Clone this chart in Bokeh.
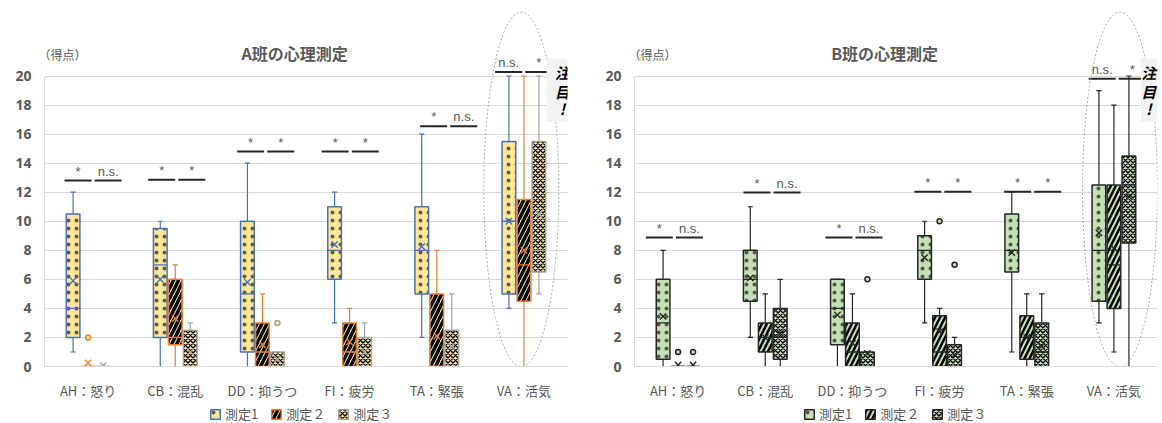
from bokeh.plotting import figure
from bokeh.layouts import row, column
from bokeh.models import Range1d, FixedTicker, Legend, LegendItem, Label
from bokeh.core.properties import value
from bokeh.embed import file_html
from bokeh.resources import INLINE

categories = ["AH：怒り", "CB：混乱", "DD：抑うつ", "FI：疲労", "TA：緊張", "VA：活気"]
series_names = ["測定1", "測定２", "測定３"]

# ---------------- A班 ----------------
a1_low = [1, 0, 0, 3, 2, 4]
a1_q1 = [2, 2, 1, 6, 5, 5]
a1_med = [4, 7, 5, 8, 8, 10]
a1_q3 = [10.5, 9.5, 10, 11, 11, 15.5]
a1_high = [12, 10, 14, 12, 16, 20]
a1_mean = [5.9, 6.0, 5.8, 8.4, 8.25, 10.0]

a2_low = [0, 0, 0, 0, 0, 0]
a2_q1 = [0, 1.5, 0, 0, 0, 4.5]
a2_med = [0, 2, 1, 1, 0, 7]
a2_q3 = [0, 6, 3, 3, 5, 11.5]
a2_high = [0, 7, 5, 4, 8, 20]
a2_mean = [0.25, 3.3, 1.5, 1.7, 2.1, 8.0]

a3_low = [0, 0, 0, 0, 0, 5]
a3_q1 = [0, 0, 0, 0, 0, 6.5]
a3_med = [0, 0, 0, 0, 0, 8]
a3_q3 = [0, 2.5, 1, 2, 2.5, 15.5]
a3_high = [0, 3, 1, 3, 5, 20]
a3_mean = [0.05, 1.0, 0.5, 1.0, 1.4, 10.5]

a_out_cat = [0, 2]
a_out_series = [1, 2]
a_out_val = [2, 3]

a_sig_y = [12.8, 12.85, 14.8, 14.8, 16.55, 20.27]
a_sig_left = ["*", "*", "*", "*", "*", "n.s."]
a_sig_right = ["n.s.", "*", "*", "*", "n.s.", "*"]

# ---------------- B班 ----------------
b1_low = [0, 2, 0, 3, 1, 3]
b1_q1 = [0.5, 4.5, 1.5, 6, 6.5, 4.5]
b1_med = [3, 6, 4, 8, 8, 8]
b1_q3 = [6, 8, 6, 9, 10.5, 12.5]
b1_high = [8, 11, 6, 10, 12, 19]
b1_mean = [3.45, 6.1, 3.55, 7.5, 7.85, 9.2]

b2_low = [0, 0, 0, 0, 0, 1]
b2_q1 = [0, 1, 0, 0, 0.5, 4]
b2_med = [0, 2, 1, 1, 2, 7]
b2_q3 = [0, 3, 3, 3.5, 3.5, 12.5]
b2_high = [0, 5, 5, 4, 5, 18]
b2_mean = [0.1, 2.0, 1.6, 2.4, 2.0, 8.15]

b3_low = [0, 0, 0, 0, 0, 0]
b3_q1 = [0, 0.5, 0, 0, 0, 8.5]
b3_med = [0, 2, 0, 0, 1, 12.5]
b3_q3 = [0, 4, 1, 1.5, 3, 14.5]
b3_high = [0, 6, 1, 2, 5, 20]
b3_mean = [0.1, 2.3, 0.9, 0.8, 1.4, 11.7]

b_out_cat = [0, 0, 2, 3, 3]
b_out_series = [1, 2, 2, 1, 2]
b_out_val = [1, 1, 6, 10, 7]

b_sig_y = [8.88, 11.98, 8.88, 12.03, 12.03, 19.82]
b_sig_left = ["*", "*", "*", "*", "*", "n.s."]
b_sig_right = ["n.s.", "n.s.", "n.s.", "*", "*", "*"]

JP = "Noto Sans CJK JP"
GRAY_TXT = "#595959"
GRID = "#D9D9D9"
YTOP = 25.2


def make_panel(title, stats, outliers, sig, fill, lines, hatches, hatch_scales, hatch_weights,
               hatch_alphas, sig_shift, ell_x, note_x0, note_tx, width, br):
    p = figure(width=width, height=402,
               x_range=Range1d(0.5, 6.5), y_range=Range1d(0, YTOP),
               output_backend="svg", toolbar_location=None,
               min_border_left=44, min_border_right=br, min_border_top=0, min_border_bottom=30)
    p.outline_line_color = None
    p.background_fill_color = "white"
    p.border_fill_color = "white"

    yt = FixedTicker(ticks=list(range(0, 21, 2)))
    p.yaxis.ticker = yt
    p.ygrid.ticker = yt
    p.yaxis.bounds = (0, 20)
    p.ygrid.grid_line_color = GRID
    p.xgrid.visible = False
    p.yaxis.axis_line_color = GRID
    p.yaxis.major_tick_line_color = None
    p.yaxis.minor_tick_line_color = None
    p.yaxis.major_label_text_font = "Noto Sans"
    p.yaxis.major_label_text_font_style = "bold"
    p.yaxis.major_label_text_font_size = "14px"
    p.yaxis.major_label_text_color = GRAY_TXT
    p.yaxis.major_label_standoff = 7

    p.xaxis.ticker = FixedTicker(ticks=list(range(1, 7)))
    p.xaxis.major_label_overrides = {i + 1: c for i, c in enumerate(categories)}
    p.xaxis.axis_line_color = GRID
    p.xaxis.major_tick_line_color = None
    p.xaxis.minor_tick_line_color = None
    p.xaxis.major_label_text_font = JP
    p.xaxis.major_label_text_font_size = "13px"
    p.xaxis.major_label_text_color = GRAY_TXT
    p.xaxis.major_label_standoff = 8

    offsets = [-0.172, 0.0, 0.172]
    bw = 0.157
    cap = 0.03
    for s in range(3):
        low, q1, med, q3, high, mean = stats[s]
        xs = [i + 1 + offsets[s] for i in range(6)]
        col = lines[s]
        p.segment(x0=xs, y0=q3, x1=xs, y1=high, line_color=col, line_width=1.2)
        p.segment(x0=xs, y0=low, x1=xs, y1=q1, line_color=col, line_width=1.2)
        p.segment(x0=[x - cap for x in xs], y0=high, x1=[x + cap for x in xs], y1=high,
                  line_color=col, line_width=1.2)
        p.segment(x0=[x - cap for x in xs], y0=low, x1=[x + cap for x in xs], y1=low,
                  line_color=col, line_width=1.2)
        p.vbar(x=xs, width=bw, bottom=q1, top=q3, fill_color=fill,
               line_color=col, line_width=1.5,
               hatch_pattern=hatches[s], hatch_color="black", hatch_alpha=hatch_alphas[s],
               hatch_scale=hatch_scales[s], hatch_weight=hatch_weights[s])
        p.segment(x0=[x - bw / 2 for x in xs], y0=med, x1=[x + bw / 2 for x in xs], y1=med,
                  line_color=col, line_width=1.3)
        p.scatter(x=xs, y=mean, marker="x", size=9, line_color=col, line_width=1.4)

    oc, os_, ov = outliers
    ox = [c + 1 + offsets[s] for c, s in zip(oc, os_)]
    p.scatter(x=ox, y=ov, marker="circle", size=5,
              fill_color=fill, line_color=[lines[s] for s in os_], line_width=1.5)

    sy, sl, sr = sig
    x0l, x1l, x0r, x1r, xcl, xcr = [], [], [], [], [], []
    for i in range(6):
        c = i + 1 + sig_shift[i]
        x0l.append(c - 0.31); x1l.append(c - 0.0)
        x0r.append(c + 0.035); x1r.append(c + 0.345)
        xcl.append(c - 0.155); xcr.append(c + 0.19)
    p.segment(x0=x0l, y0=sy, x1=x1l, y1=sy, line_color="#262626", line_width=2)
    p.segment(x0=x0r, y0=sy, x1=x1r, y1=sy, line_color="#262626", line_width=2)
    ty = [y + 0.12 for y in sy]
    p.text(x=xcl + xcr, y=ty + ty, text=sl + sr, text_align="center", text_baseline="bottom",
           text_font=value("Liberation Sans"), text_font_size="13px", text_color=GRAY_TXT)

    p.ellipse(x=[ell_x], y=[12.2], width=0.86, height=24.4, fill_color=None,
              line_color="#A6A6A6", line_dash="2 2", line_width=1)

    p.quad(left=[note_x0], right=[6.5], bottom=[16.85], top=[21.2], fill_color="#F2F2F2", line_color=None)
    p.text(x=[note_tx] * 3, y=[20.25, 18.95, 17.75], text=["注", "目", "!"], text_align="center",
           text_baseline="middle", text_font=value(JP), text_font_style="bold italic",
           text_font_size="15px", text_color="black")

    p.text(x=[3.37], y=[21.6], text=[title], text_align="center", text_baseline="middle",
           text_font=value(JP), text_font_style="bold", text_font_size="16px", text_color=GRAY_TXT)

    # unit label, kept inside the frame so that it is not clipped
    p.add_layout(Label(x=-6, y=312, x_units="screen", y_units="screen", text="（得点）",
                       text_align="left", text_baseline="middle",
                       text_font=JP, text_font_size="12px", text_color=GRAY_TXT))
    return p


def make_legend_fig(width, fill, lines, hatches, hatch_scales, hatch_weights, hatch_alphas, x0):
    lf = figure(width=width, height=21, x_range=Range1d(0, width), y_range=Range1d(0, 21),
                output_backend="svg", toolbar_location=None, min_border=0,
                x_axis_type=None, y_axis_type=None)
    lf.outline_line_color = None
    rs = []
    for s in range(3):
        # legend-only swatch renderers: a tiny box hidden under the legend's opaque background
        rs.append(lf.vbar(x=[x0 + 40], width=2, bottom=[6], top=[8], fill_color=fill,
                          line_color=lines[s], line_width=1.5,
                          hatch_pattern=hatches[s], hatch_color="black", hatch_alpha=hatch_alphas[s],
                          hatch_scale=hatch_scales[s], hatch_weight=hatch_weights[s]))
    legend = Legend(items=[LegendItem(label=series_names[k], renderers=[rs[k]]) for k in range(3)],
                    orientation="horizontal", location=(x0, 0))
    legend.label_text_font = JP
    legend.label_text_font_size = "13px"
    legend.label_text_color = GRAY_TXT
    legend.glyph_width = 12
    legend.glyph_height = 12
    legend.label_height = 14
    legend.label_standoff = 4
    legend.spacing = 12
    legend.padding = 0
    legend.margin = 0
    legend.border_line_color = None
    legend.background_fill_color = "white"
    legend.background_fill_alpha = 1.0
    lf.add_layout(legend)
    return lf


A_FILL = "#FFE699"
A_LINES = ["#4472C4", "#ED7D31", "#A5A5A5"]
B_FILL = "#C5E0B4"
B_LINES = ["#262626", "#262626", "#262626"]
HATCH = ["dot", "right_diagonal_line", "diagonal_cross"]
A_SCALES, A_WEIGHTS = [8, 10, 5], [0.5, 3.5, 1.4]
B_SCALES, B_WEIGHTS = [8, 10, 5], [0.5, 2.5, 1.4]
ALPHAS = [0.6, 1.0, 1.0]

pa = make_panel(
    "A班の心理測定",
    [(a1_low, a1_q1, a1_med, a1_q3, a1_high, a1_mean),
     (a2_low, a2_q1, a2_med, a2_q3, a2_high, a2_mean),
     (a3_low, a3_q1, a3_med, a3_q3, a3_high, a3_mean)],
    (a_out_cat, a_out_series, a_out_val),
    (a_sig_y, a_sig_left, a_sig_right),
    A_FILL, A_LINES, HATCH, A_SCALES, A_WEIGHTS, ALPHAS,
    [0.04, 0.0, 0.02, -0.01, 0.12, -0.02],
    5.97, 6.26, 6.44, 590, 23)

pb = make_panel(
    "B班の心理測定",
    [(b1_low, b1_q1, b1_med, b1_q3, b1_high, b1_mean),
     (b2_low, b2_q1, b2_med, b2_q3, b2_high, b2_mean),
     (b3_low, b3_q1, b3_med, b3_q3, b3_high, b3_mean)],
    (b_out_cat, b_out_series, b_out_val),
    (b_sig_y, b_sig_left, b_sig_right),
    B_FILL, B_LINES, HATCH, B_SCALES, B_WEIGHTS, ALPHAS,
    [-0.06, 0.06, 0.0, 0.02, 0.05, 0.02],
    6.07, 6.31, 6.40, 572, 5)

la = make_legend_fig(590, A_FILL, A_LINES, HATCH, A_SCALES, A_WEIGHTS, ALPHAS, 209)
lb = make_legend_fig(572, B_FILL, B_LINES, HATCH, B_SCALES, B_WEIGHTS, ALPHAS, 213)

layout = column(row(pa, pb, spacing=0), row(la, lb, spacing=0), spacing=0)
open("out.html", "w").write(file_html(layout, INLINE))
